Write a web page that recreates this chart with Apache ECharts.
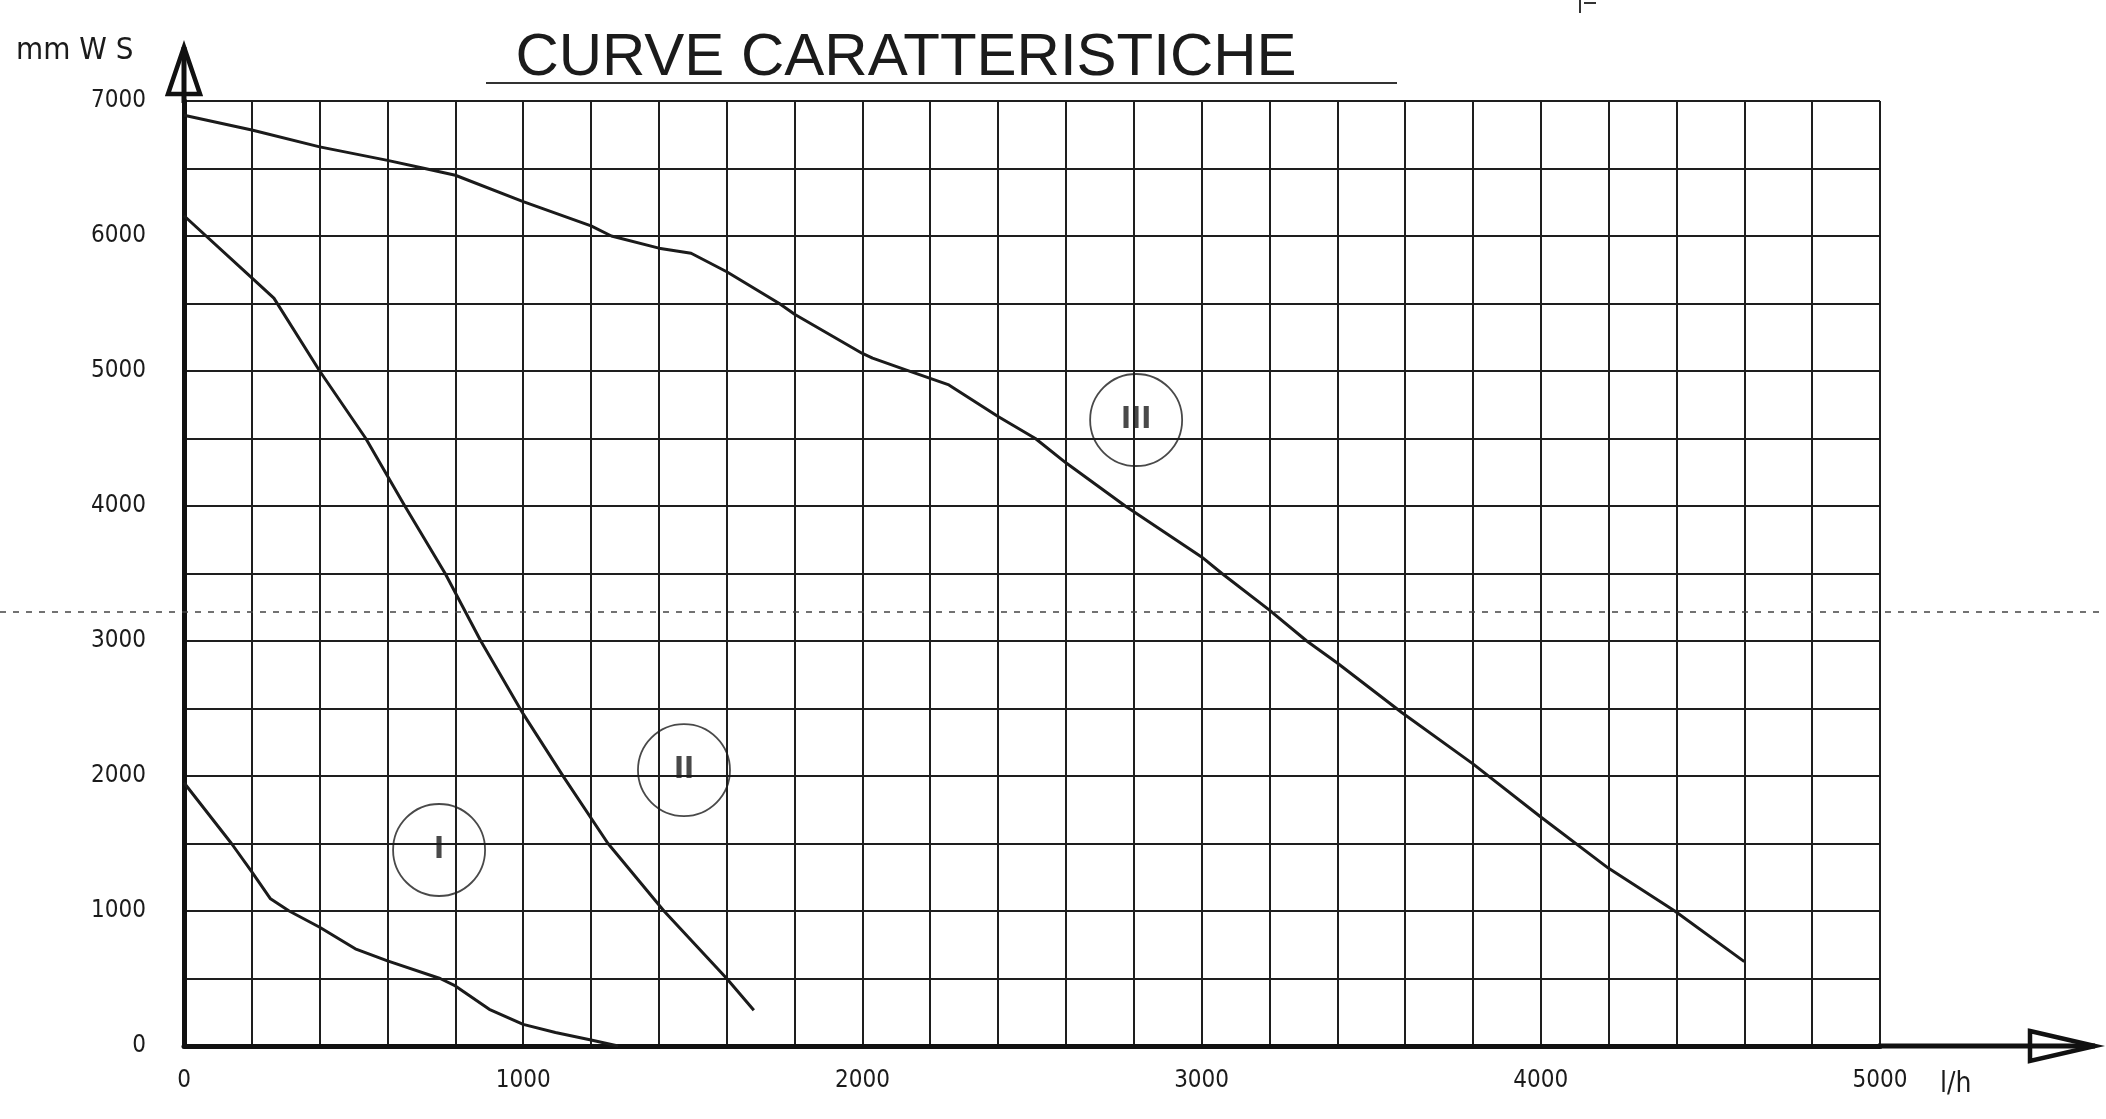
<!DOCTYPE html>
<html>
<head>
<meta charset="utf-8">
<title>Curve caratteristiche</title>
<script src="https://cdn.jsdelivr.net/npm/echarts@6/dist/echarts.min.js"></script>
<style>
    html, body { margin: 0; padding: 0; background: #fff; }
    #main { width: 2106px; height: 1119px; }
</style>
</head>
<body>
<div id="main"></div>
<script>
// etichette degli assi (l/h e mm WS)
var xLabels = [0, 1000, 2000, 3000, 4000, 5000];
var yLabels = [0, 1000, 2000, 3000, 4000, 5000, 6000, 7000];

// curva I
var curveI = [
    [0, 1950], [140, 1500], [200, 1290], [255, 1090], [310, 1000], [400, 880],
    [505, 720], [600, 630], [755, 500], [800, 445], [900, 272], [1000, 160],
    [1095, 100], [1200, 45], [1280, 0]
];

// curva II
var curveII = [
    [0, 6150], [200, 5690], [265, 5540], [400, 5000], [536, 4500], [651, 4000],
    [770, 3500], [875, 3000], [1000, 2460], [1120, 1990], [1250, 1500],
    [1415, 1000], [1600, 500], [1680, 265]
];

// curva III
var curveIII = [
    [0, 6895], [200, 6785], [400, 6660], [600, 6560], [710, 6500], [800, 6450],
    [1000, 6255], [1200, 6075], [1260, 6000], [1400, 5910], [1495, 5872],
    [1600, 5735], [1755, 5500], [1800, 5420], [2000, 5130], [2030, 5095],
    [2130, 5007], [2255, 4897], [2400, 4663], [2510, 4500], [2600, 4320],
    [2775, 4000], [3000, 3623], [3060, 3500], [3200, 3229], [3310, 3000],
    [3400, 2837], [3590, 2470], [3800, 2090], [4000, 1696], [4200, 1316],
    [4395, 1000], [4600, 625]
];

// cerchi con il numero della curva
var curveNames = ['I', 'II', 'III'];
var curveMarks = [[752, 1452], [1474, 2044], [2807, 4637]];

var ink = '#1b1b1b';
var narrow = '"Liberation Sans Narrow", "Arial Narrow", "DejaVu Sans Condensed", sans-serif';

var chart = echarts.init(document.getElementById('main'));

function lineSeries(name, data) {
    return {
        name: name,
        type: 'line',
        data: data,
        symbol: 'none',
        smooth: false,
        silent: true,
        lineStyle: { color: ink, width: 3 },
        z: 5
    };
}

var option = {
    backgroundColor: '#fff',
    animation: false,
    title: {
        text: 'CURVE CARATTERISTICHE',
        left: 901,
        top: 23,
        textAlign: 'center',
        textStyle: {
            fontFamily: '"Liberation Sans", Arial, sans-serif',
            fontWeight: 'normal',
            fontSize: 60,
            color: ink
        }
    },
    grid: {
        left: 184,
        top: 101,
        width: 1696,
        height: 945
    },
    xAxis: {
        type: 'value',
        min: 0,
        max: 5000,
        interval: 200,
        axisLine: { show: true, lineStyle: { color: '#111', width: 5 } },
        axisTick: { show: false },
        splitLine: { show: true, lineStyle: { color: '#1e1e1e', width: 2 } },
        axisLabel: {
            margin: 23,
            fontFamily: narrow,
            fontSize: 24,
            color: ink,
            formatter: function(v) {
                return xLabels.indexOf(v) >= 0 ? String(v) : '';
            }
        }
    },
    yAxis: {
        type: 'value',
        min: 0,
        max: 7000,
        interval: 500,
        axisLine: { show: true, lineStyle: { color: '#111', width: 5 } },
        axisTick: { show: false },
        splitLine: { show: true, lineStyle: { color: '#1e1e1e', width: 2 } },
        axisLabel: {
            margin: 38,
            fontFamily: narrow,
            fontSize: 24,
            color: ink,
            formatter: function(v) {
                return yLabels.indexOf(v) >= 0 ? String(v) : '';
            }
        }
    },
    series: [
        lineSeries('I', curveI),
        lineSeries('II', curveII),
        lineSeries('III', curveIII),
        {
            type: 'scatter',
            silent: true,
            data: curveMarks.map(function(p, i) {
                return { value: p, name: curveNames[i] };
            }),
            symbol: 'circle',
            symbolSize: 92,
            itemStyle: { color: 'rgba(255,255,255,0)', borderColor: ink, borderWidth: 1.8 },
            label: {
                show: true,
                position: 'inside',
                formatter: '{b}',
                fontFamily: narrow,
                fontWeight: 'bold',
                fontSize: 30,
                color: ink
            },
            z: 6
        }
    ]
};

chart.setOption(option);

// frecce degli assi, scritte e segni della scansione
var o = chart.convertToPixel({ gridIndex: 0 }, [0, 0]);
var tr = chart.convertToPixel({ gridIndex: 0 }, [5000, 7000]);
var scanY = chart.convertToPixel({ gridIndex: 0 }, [0, 3215])[1];

chart.setOption({
    graphic: [
        {
            type: 'polygon',
            shape: { points: [[o[0], tr[1] - 54], [o[0] - 16, tr[1] - 7], [o[0] + 16, tr[1] - 7]] },
            style: { fill: '#fff', stroke: '#111', lineWidth: 4.5 },
            z: 20
        },
        {
            type: 'line',
            shape: { x1: o[0], y1: tr[1] + 2, x2: o[0], y2: tr[1] - 54 },
            style: { stroke: '#111', lineWidth: 5 },
            z: 21
        },
        {
            type: 'polygon',
            shape: { points: [[tr[0] + 150, o[1] - 15], [tr[0] + 215, o[1]], [tr[0] + 150, o[1] + 15]] },
            style: { fill: '#fff', stroke: '#111', lineWidth: 4.5 },
            z: 20
        },
        {
            type: 'line',
            shape: { x1: tr[0] - 2, y1: o[1], x2: tr[0] + 215, y2: o[1] },
            style: { stroke: '#111', lineWidth: 5 },
            z: 21
        },
        {
            type: 'text',
            style: { text: 'mm W S', x: 16, y: 35, font: '31px ' + narrow, fill: ink }
        },
        {
            type: 'text',
            style: { text: 'l/h', x: 1940, y: 1071, font: '28px ' + narrow, fill: ink }
        },
        {
            type: 'line',
            shape: { x1: 486, y1: 83, x2: 1397, y2: 83 },
            style: { stroke: '#333', lineWidth: 2 }
        },
        {
            type: 'line',
            shape: { x1: 0, y1: scanY, x2: 2106, y2: scanY },
            style: { stroke: '#444', lineWidth: 1.5, lineDash: [6, 7] },
            z: 1
        },
        {
            type: 'line',
            shape: { x1: 1580, y1: 0, x2: 1580, y2: 13 },
            style: { stroke: '#333', lineWidth: 2 }
        },
        {
            type: 'line',
            shape: { x1: 1584, y1: 3, x2: 1596, y2: 3 },
            style: { stroke: '#333', lineWidth: 2 }
        }
    ]
});
</script>
</body>
</html>
